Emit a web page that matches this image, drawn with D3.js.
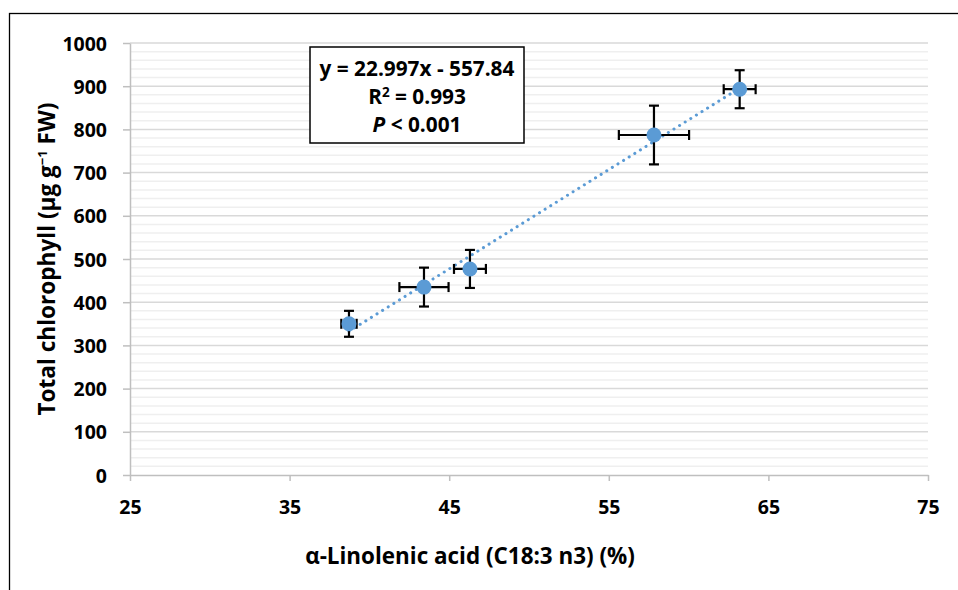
<!DOCTYPE html>
<html><head><meta charset="utf-8">
<script src="https://cdn.jsdelivr.net/npm/d3@7"></script>
<style>body{margin:0;background:#fff}svg{display:block}</style>
</head><body>
<svg id="c" width="958" height="590"></svg>
<script>
const xVals = [38.72, 43.42, 46.3, 57.83, 63.2];
const yVals = [350, 435, 477, 787, 893];
const xErr = [0.48, 1.54, 1.0, 2.2, 1.0];
const yErr = [30, 45, 44, 68, 44];
const xTicks = [25, 35, 45, 55, 65, 75];
const yTicks = [0, 100, 200, 300, 400, 500, 600, 700, 800, 900, 1000];
const slope = 22.997, intercept = -557.84;
const eqLines = ["y = 22.997x - 557.84", "R² = 0.993", "P < 0.001"];

const svg = d3.select("#c");
const font = "'Open Sans', Lato, sans-serif";
const m = {l:130, r:928, t:43, b:475};
const x = d3.scaleLinear().domain([25,75]).range([m.l, m.r]);
const y = d3.scaleLinear().domain([0,1000]).range([m.b, m.t]);

function fit(sel, target) {
  const w = sel.node().getComputedTextLength();
  const fs = parseFloat(sel.attr("font-size"));
  sel.attr("font-size", fs * target / w);
}

// outer border
svg.append("rect").attr("x",9.5).attr("y",13.5).attr("width",1000).attr("height",700)
  .attr("fill","none").attr("stroke","#000").attr("stroke-width",1.3);

// gridlines
const minor = d3.range(0,1001,20).filter(v=>v%100!==0);
svg.append("g").selectAll("line").data(minor).join("line")
  .attr("x1",m.l).attr("x2",m.r).attr("y1",d=>y(d)).attr("y2",d=>y(d))
  .attr("stroke","#efefef").attr("stroke-width",1.5);
svg.append("g").selectAll("line").data(yTicks.filter(v=>v>0)).join("line")
  .attr("x1",m.l).attr("x2",m.r).attr("y1",d=>y(d)).attr("y2",d=>y(d))
  .attr("stroke","#d9d9d9").attr("stroke-width",1.5);

// axes
const tickFs = 19.5;
const gx = svg.append("g").attr("transform",`translate(0,${m.b})`)
  .call(d3.axisBottom(x).tickValues(xTicks).tickFormat(d3.format("d")).tickSize(6).tickSizeOuter(0).tickPadding(18));
const gy = svg.append("g").attr("transform",`translate(${m.l},0)`)
  .call(d3.axisLeft(y).tickValues(yTicks).tickFormat(d3.format("d")).tickSize(7).tickSizeOuter(0).tickPadding(16));
[gx,gy].forEach(g=>{
  g.selectAll("path,line").attr("stroke","#bfbfbf").attr("stroke-width",1.5);
  g.selectAll("text").attr("font-family",font).attr("font-weight","bold")
   .attr("font-size",tickFs).attr("fill","#000");
});
gy.selectAll("text").attr("dy","0.36em");
gx.selectAll("text").attr("dy","15");

// trendline
svg.append("line")
  .attr("x1",x(d3.min(xVals))).attr("y1",y(slope*d3.min(xVals)+intercept))
  .attr("x2",x(d3.max(xVals))).attr("y2",y(slope*d3.max(xVals)+intercept))
  .attr("stroke","#5B9BD5").attr("stroke-width",3).attr("stroke-linecap","round")
  .attr("stroke-dasharray","0.1 6.5");

// error bars
const data = xVals.map((v,i)=>({x:v,y:yVals[i],ex:xErr[i],ey:yErr[i]}));
const eb = svg.append("g").attr("stroke","#000").attr("stroke-width",2.2);
const cap = 5;
data.forEach(d=>{
  eb.append("line").attr("x1",x(d.x-d.ex)).attr("x2",x(d.x+d.ex)).attr("y1",y(d.y)).attr("y2",y(d.y));
  eb.append("line").attr("x1",x(d.x)).attr("x2",x(d.x)).attr("y1",y(d.y-d.ey)).attr("y2",y(d.y+d.ey));
  [d.x-d.ex,d.x+d.ex].forEach(v=>eb.append("line").attr("x1",x(v)).attr("x2",x(v)).attr("y1",y(d.y)-cap).attr("y2",y(d.y)+cap));
  [d.y-d.ey,d.y+d.ey].forEach(v=>eb.append("line").attr("x1",x(d.x)-cap).attr("x2",x(d.x)+cap).attr("y1",y(v)).attr("y2",y(v)));
});
svg.append("g").selectAll("circle").data(data).join("circle")
  .attr("cx",d=>x(d.x)).attr("cy",d=>y(d.y)).attr("r",7.5).attr("fill","#5B9BD5");

// equation box
svg.append("rect").attr("x",310).attr("y",47).attr("width",214).attr("height",96)
  .attr("fill","#fff").attr("stroke","#000").attr("stroke-width",1.5);
const eq = svg.append("g").attr("font-family",font).attr("font-weight","bold")
  .attr("text-anchor","middle");
const l1 = eq.append("text").attr("x",417).attr("y",76).attr("font-size",18).text(eqLines[0]);
fit(l1, 195);
const eqFs = +l1.attr("font-size");
const r2 = eq.append("text").attr("x",417).attr("y",104).attr("font-size",eqFs);
r2.append("tspan").text("R");
r2.append("tspan").attr("font-size",eqFs*0.65).attr("dy",-7).text("2");
r2.append("tspan").attr("dy",7).text(" = 0.993");
const pt = eq.append("text").attr("x",417).attr("y",132).attr("font-size",eqFs);
pt.append("tspan").attr("font-style","italic").text("P");
pt.append("tspan").text(" < 0.001");

// axis titles
const xt = svg.append("text").attr("x",470).attr("y",564).attr("text-anchor","middle")
  .attr("font-family",font).attr("font-weight","bold").attr("font-size",19)
  .text("α-Linolenic acid (C18:3 n3) (%)");
fit(xt, 330);
const yt = svg.append("text").attr("transform","translate(55,259) rotate(-90)").attr("text-anchor","middle")
  .attr("font-family",font).attr("font-weight","bold").attr("font-size",19);
yt.append("tspan").text("Total chlorophyll (µg g");
yt.append("tspan").attr("font-size",13).attr("dy",-8).text("−1");
yt.append("tspan").attr("dy",8).text(" FW)");
fit(yt, 316);
</script>
</body></html>
